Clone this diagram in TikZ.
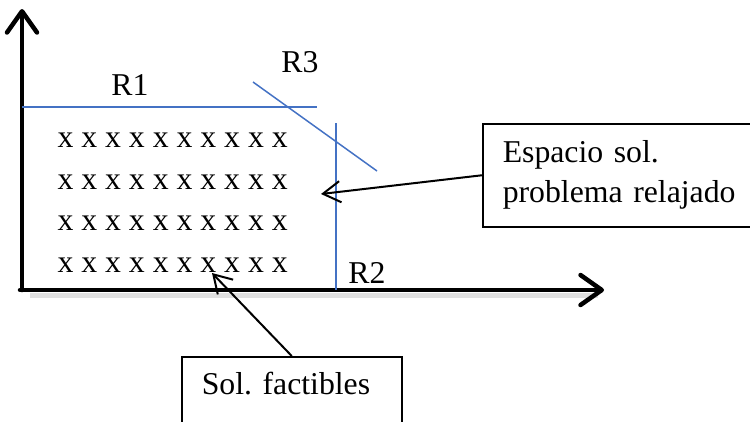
\documentclass[tikz,border=0pt]{standalone}
\usepackage{fontspec}
\setmainfont{Liberation Serif}
\usetikzlibrary{arrows.meta}
\definecolor{restr}{RGB}{68,114,196}
\frenchspacing

\begin{document}
\begin{tikzpicture}[
    x=0.4pt, y=-0.4pt,
    axis/.style={line width=1.8pt, line cap=round, line join=round,
                -{Straight Barb[round, length=8.5pt, width=12pt]}},
    restline/.style={restr, line width=0.6pt},
    rlbl/.style={font=\fontsize{12.7}{16}\selectfont, inner sep=0pt},
    xrow/.style={font=\fontsize{12.7}{16}\selectfont, anchor=west, inner sep=0pt},
    callout/.style={draw=black, line width=0.6pt, anchor=north west, inner xsep=8pt,
                font=\fontsize{12.7}{16}\selectfont, align=left},
    pointer/.style={line width=0.8pt, -{Straight Barb[length=7pt, width=8.5pt]}},
]
\useasboundingbox (0,0) rectangle (750,421);
\coordinate (O) at (22,290);
\draw[black!12, line width=2pt] (30,295) -- (598,295);
\draw[axis] (O) -- (22,9);
\draw[axis] (20,290) -- (604,290);
\draw[restline] (22,107) -- (317,107);
\draw[restline] (336,123) -- (336,290);
\draw[restline] (253,82) -- (377,171);
\node[rlbl] (r1) at (130,85)  {R1};
\node[rlbl] (r2) at (367,273) {R2};
\node[rlbl] (r3) at (300,62)  {R3};
\foreach \r/\y in {1/140, 2/182, 3/223, 4/265}
    \node[xrow] (row\r) at (57,\y) {x x x x x x x x x x};
\node[callout, text width=110pt, minimum height=41.2pt] (relajado) at (482,123)
    {Espacio sol.\\problema relajado};
\node[callout, text width=72pt, inner ysep=6pt, text depth=20pt] (factibles) at (181,356)
    {Sol. factibles};
\coordinate (espacio) at (321,194);
\coordinate (factible) at (212,273);
\draw[pointer] (relajado.west) -- (espacio);
\draw[pointer] (factibles.north) -- (factible);
\end{tikzpicture}
\end{document}
